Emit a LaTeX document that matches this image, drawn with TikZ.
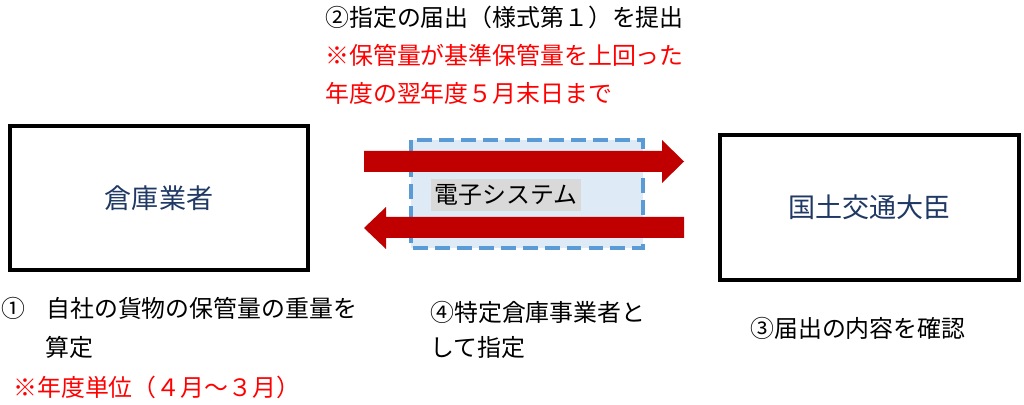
\documentclass[tikz,border=0pt]{standalone}
\usepackage{fontspec}
\newfontfamily\jpfont{Noto Sans CJK JP}
\definecolor{notered}{HTML}{FF0000}
\definecolor{arrowred}{HTML}{C00000}
\definecolor{sysblue}{HTML}{5B9BD5}
\definecolor{sysfill}{HTML}{DEEBF7}
\definecolor{boxtext}{HTML}{1F3864}
\definecolor{tagfill}{HTML}{D9D9D9}

\begin{document}
\begin{tikzpicture}[x=0.02cm, y=-0.02cm,
    txt/.style={font=\jpfont\fontsize{13.6pt}{16pt}\selectfont, anchor=west, inner sep=0pt},
    note/.style={txt, text=notered},
    party/.style={draw, line width=2.8pt, text=boxtext,
        font=\jpfont\fontsize{15.4pt}{18pt}\selectfont}]

    % Fix the page to the size of the reference
    \useasboundingbox (0,0) rectangle (1024,405);

    % The two parties
    \node[party, minimum width=5.96cm, minimum height=2.88cm] (warehouse) at (159,198) {倉庫業者};
    \node[party, minimum width=5.98cm, minimum height=2.90cm] (minister) at (869.5,207.5) {国土交通大臣};

    % The electronic system between them (dashed frame)
    \draw[sysblue, fill=sysfill, line width=2.8pt, dash pattern=on 8.5pt off 4pt] (411,140) rectangle (643,248);

    % Arrow to the minister
    \fill[arrowred] (364,151) -- (662,151) -- (662,140) -- (684,161.5)
        -- (662,183) -- (662,172) -- (364,172) -- cycle;

    % Arrow back to the warehouse
    \fill[arrowred] (684,217) -- (386,217) -- (386,207) -- (364,228)
        -- (386,249) -- (386,238) -- (684,238) -- cycle;

    % Label of the system
    \node[fill=tagfill, inner xsep=2pt, inner ysep=3pt, font=\jpfont\fontsize{13.6pt}{16pt}\selectfont] (esys) at (506,195) {電子システム};

    % Step 2, with its deadline in red
    \node[txt] (step2) at (325,17) {②指定の届出（様式第１）を提出};
    \node[note] (due1) at (325,55) {※保管量が基準保管量を上回った};
    \node[note] (due2) at (325,93) {年度の翌年度５月末日まで};

    % Step 1 under the warehouse
    \node[txt] (num1) at (1,308) {①};
    \node[txt] (step1a) at (46,308) {自社の貨物の保管量の重量を};
    \node[txt] (step1b) at (45,347) {算定};
    \node[note] (unit) at (13,387) {※年度単位（４月～３月）};

    % Step 4 under the arrows
    \node[txt] (step4a) at (430,312) {④特定倉庫事業者と};
    \node[txt] (step4b) at (430,347) {して指定};

    % Step 3 under the minister
    \node[txt] (step3) at (750,328) {③届出の内容を確認};

\end{tikzpicture}
\end{document}
